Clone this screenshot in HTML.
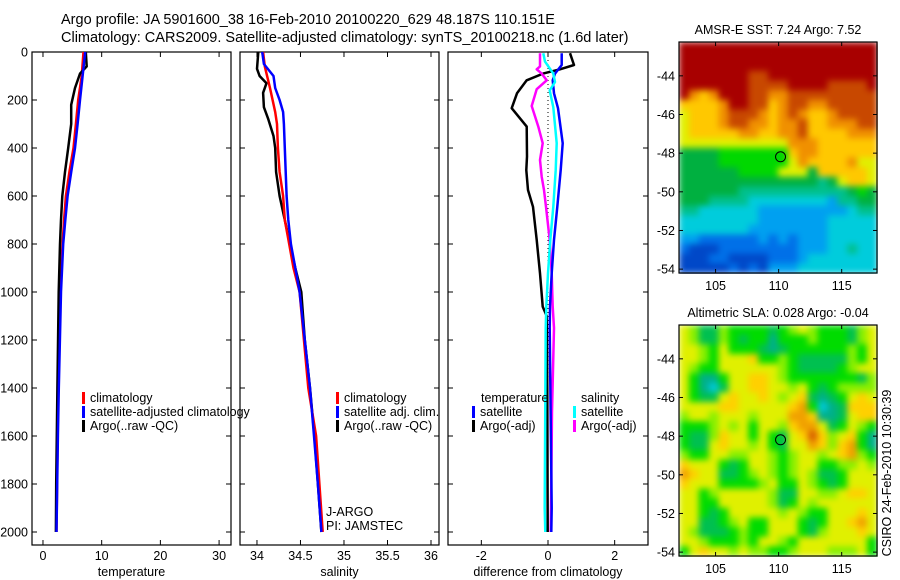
<!DOCTYPE html>
<html><head><meta charset="utf-8"><style>
html,body{margin:0;padding:0;background:#fff;}
svg{display:block;font-family:"Liberation Sans",Arial,sans-serif;}
</style></head><body>
<svg id="fig" width="900" height="580" viewBox="0 0 900 580" xmlns="http://www.w3.org/2000/svg">
<defs>
<filter id="smooth" x="0" y="0" width="1" height="1" filterUnits="objectBoundingBox" color-interpolation-filters="sRGB">
<feGaussianBlur stdDeviation="3.2" edgeMode="duplicate"/>
</filter>
</defs>
<text x="61" y="24" font-size="14.5">Argo profile: JA 5901600_38 16-Feb-2010 20100220_629 48.187S 110.151E</text>
<text x="61" y="42" font-size="14.5">Climatology: CARS2009. Satellite-adjusted climatology: synTS_20100218.nc (1.6d later)</text>
<text x="881" y="463" font-size="12.5" text-anchor="middle" transform="rotate(-90 891 463)">CSIRO 24-Feb-2010 10:30:39</text>
</svg>
<script>
// ---------- data ----------
const depthTicks=[0,200,400,600,800,1000,1200,1400,1600,1800,2000];
const tempTicks=[0,10,20,30];
const salTicks=[34,34.5,35,35.5,36];
const salTickLabels=["34","34.5","35","35.5","36"];
const diffTicks=[-2,0,2];
const latTicks=[-44,-46,-48,-50,-52,-54];
const lonTicks=[105,110,115];

const tClimD=[0,100,200,300,400,500,600,700,800,1000,1400,2000];
const tClimV=[6.9,6.6,6.0,5.6,5.2,4.5,3.9,3.6,3.35,2.9,2.6,2.3];
const tSatD=[0,100,200,300,400,500,600,700,800,1000,1400,1600,2000];
const tSatV=[7.2,6.75,6.3,5.9,5.45,4.8,4.2,3.8,3.45,3.07,2.7,2.55,2.3];
const tArgoD=[0,60,90,150,220,300,400,500,600,700,800,1000,1400,1800,2000];
const tArgoV=[7.3,7.45,6.3,5.45,4.8,4.8,4.3,3.75,3.3,3.07,2.9,2.67,2.45,2.25,2.2];

const sClimD=[0,60,150,200,250,300,400,500,600,700,800,900,1000,1400,1600,2000];
const sClimV=[34.07,34.09,34.15,34.18,34.21,34.23,34.24,34.26,34.30,34.32,34.37,34.42,34.49,34.59,34.68,34.755];
const sSatD=[0,50,100,150,200,250,300,400,500,600,700,800,900,1000,1400,1600,1800,2000];
const sSatV=[34.06,34.08,34.19,34.21,34.26,34.30,34.31,34.32,34.33,34.34,34.36,34.39,34.44,34.49,34.61,34.655,34.70,34.74];
const sArgoD=[0,70,100,130,170,230,280,350,400,500,600,700,800,900,1000,1200,1400,1600,1800,2000];
const sArgoV=[34.015,34.0,34.03,34.11,34.07,34.08,34.13,34.19,34.21,34.22,34.26,34.32,34.38,34.44,34.51,34.55,34.61,34.66,34.70,34.74];

const dTArgoD=[5,54,72,90,118,172,234,311,436,492,575,645,783,922,1061,1100,1400,2000];
const dTArgoV=[0.66,0.78,0.36,-0.15,-0.64,-0.93,-1.09,-0.64,-0.63,-0.65,-0.6,-0.45,-0.34,-0.24,-0.16,-0.04,-0.02,-0.01];
const dTSatD=[5,54,90,118,172,234,380,492,645,783,922,1061,1150,1900,2000];
const dTSatV=[0.41,0.41,0.21,0.14,0.18,0.3,0.44,0.38,0.28,0.18,0.11,0.06,0.05,0.11,0.1];
const dSSatD=[5,40,90,125,160,230,380,492,645,783,922,1061,1150,1900,2000];
const dSSatV=[-0.14,-0.09,0.16,0.21,0.05,0.16,0.26,0.23,0.16,0.07,0.0,-0.05,-0.07,-0.1,-0.08];
const dSArgoD=[5,60,72,90,118,155,225,311,380,450,520,575,645,783,922,1061,1150,1500,1800,2000];
const dSArgoV=[-0.24,-0.24,-0.34,-0.19,-0.04,-0.34,-0.49,-0.29,-0.16,-0.24,-0.19,-0.12,-0.06,0.05,0.11,0.14,0.18,0.12,0.1,0.08];

// map grids: 20 columns (lon 102.1..117.8) x 24 rows (lat -42.25..-54.2)
const sstRows=["bbbbbbbbbbbbbbbbbbbb","bbbbbbbbbbbbbbbbbbbb","bbbbbbbbbbbbbbbbbbbb","bbbbbbbaabbbbbbbbbbb",
"bbbbbbbaaaabbbbaaaab","b989bbbaa99aaaaaaaaa","88889bbaa89aa99aaaaa","78889aaa989a9889aaaa",
"78889aa99899a88999aa","788888998899a8888999","77777777777999888888","55556666666899888888",
"55556666666798888977","55555566667775888887","55555555555555457887","55555544444444444565",
"55544443333333324455","44333333222222222344","33333333222222233333","33333332222222233333",
"22111111212122233333","10001111111122233433","00011000011123333333","00000101022233333333"];
const sstColors=["#0048c8","#0070e8","#00a0f0","#00ccdc","#00c08c","#00b040","#00d800","#e0f000","#ffc800","#f09000","#c84800","#a80000"];
const slaRows=["54224333323454333245","54224323313334333245","55435333212333333435","55435556334322222435",
"54335555554322223455","53113556654333333324","53102556655453234444","53225655654562123565",
"55556655555673012666","45545554555776112566","33345453554677523543","32246553532568645631",
"32256554532557646731","43355445543455456743","65553235543455334454","76552234543454223555",
"65553333453354323555","55345555542255445665","55335555542354555555","55323555554543355565",
"55223453355532355675","54222343355532455565","55433343554355555553","35655454433455544453"];
const slaColors=["#00c8d8","#00b088","#00c050","#00dc00","#88f000","#e0f000","#ffd000","#f0a000","#d86000"];
const argoLon=110.151, argoLat=-48.187;

// ---------- drawing ----------
const svg=document.getElementById('fig');
const NS="http://www.w3.org/2000/svg";
function mk(tag,attrs,parent){const e=document.createElementNS(NS,tag);for(const k in attrs)e.setAttribute(k,attrs[k]);(parent||svg).appendChild(e);return e;}
const yD=d=>52+d*0.24;
const panels=[
 {x0:32,x1:231,v0:-1.87,v1:32.03,ticks:tempTicks,labels:tempTicks.map(String),title:"temperature",name:"temperature-panel"},
 {x0:240,x1:439,v0:33.805,v1:36.092,ticks:salTicks,labels:salTickLabels,title:"salinity",name:"salinity-panel"},
 {x0:448,x1:648,v0:-3.0,v1:3.0,ticks:diffTicks,labels:diffTicks.map(String),title:"difference from climatology",name:"difference-panel"}];
const yTop=52, yBot=545;
panels.forEach((p,i)=>{
 const g=mk('g',{});
 
 
 p.sx=v=>p.x0+(v-p.v0)/(p.v1-p.v0)*(p.x1-p.x0);
 const r=mk('rect',{x:p.x0,y:yTop,width:p.x1-p.x0,height:yBot-yTop,fill:'none',stroke:'#000','stroke-width':1.2},g);
 
 
 p.ticks.forEach((t,j)=>{
  const x=p.sx(t);
  mk('line',{x1:x,y1:yBot,x2:x,y2:yBot-5,stroke:'#000'},g);
  mk('line',{x1:x,y1:yTop,x2:x,y2:yTop+5,stroke:'#000'},g);
  const tl=mk('text',{x:x,y:yBot+15,'font-size':12.5,'text-anchor':'middle'},g);
  tl.textContent=p.labels[j];
  
  
 });
 depthTicks.forEach(d=>{
  const y=yD(d);
  mk('line',{x1:p.x0,y1:y,x2:p.x0+5,y2:y,stroke:'#000'},g);
  mk('line',{x1:p.x1,y1:y,x2:p.x1-5,y2:y,stroke:'#000'},g);
  if(i===0){const tl=mk('text',{x:p.x0-4,y:y+4.5,'font-size':12.5,'text-anchor':'end'},g);tl.textContent=String(d);
   
   }
 });
 const at=mk('text',{x:(p.x0+p.x1)/2,y:576,'font-size':12.5,'text-anchor':'middle'},g);
 at.textContent=p.title;
 
 
});
function line(p,D,V,color,name,w){
 const pts=D.map((d,k)=>p.sx(V[k]).toFixed(1)+','+yD(d).toFixed(1)).join(' ');
 const l=mk('polyline',{points:pts,fill:'none',stroke:color,'stroke-width':w||2.5,'stroke-linejoin':'round'});
 
 
}
{const p=panels[2];const z=mk('line',{x1:p.sx(0),y1:yTop,x2:p.sx(0),y2:yD(2000),stroke:'#000','stroke-dasharray':'1,3'});
 
 }
line(panels[0],tClimD,tClimV,'#ff0000','temperature-climatology-line');
line(panels[0],tArgoD,tArgoV,'#000000','temperature-argo-line');
line(panels[0],tSatD,tSatV,'#0000ff','temperature-satellite-line');
line(panels[1],sArgoD,sArgoV,'#000000','salinity-argo-line');
line(panels[1],sClimD,sClimV,'#ff0000','salinity-climatology-line');
line(panels[1],sSatD,sSatV,'#0000ff','salinity-satellite-line');
line(panels[2],dTArgoD,dTArgoV,'#000000','diff-temperature-argo-line');
line(panels[2],dSArgoD,dSArgoV,'#ff00ff','diff-salinity-argo-line');
line(panels[2],dTSatD,dTSatV,'#0000ff','diff-temperature-satellite-line');
line(panels[2],dSSatD,dSSatV,'#00ffff','diff-salinity-satellite-line');

function legend(x,y,color,label,name){
 const g=mk('g',{});
 
 
 if(color)mk('rect',{x:x,y:y-10,width:3,height:12,fill:color},g);
 const t=mk('text',{x:x+8,y:y,'font-size':12.5},g);t.textContent=label;
}
legend(82,402,'#ff0000','climatology','legend-entry-climatology');
legend(82,416,'#0000ff','satellite-adjusted climatology','legend-entry-satellite-adjusted');
legend(82,430,'#000000','Argo(..raw -QC)','legend-entry-argo');
legend(336,402,'#ff0000','climatology','legend-entry-sal-climatology');
legend(336,416,'#0000ff','satellite adj. clim.','legend-entry-sal-satellite');
legend(336,430,'#000000','Argo(..raw -QC)','legend-entry-sal-argo');
legend(473,402,null,'temperature','legend-header-temperature');
legend(472,416,'#0000ff','satellite','legend-entry-temp-satellite');
legend(472,430,'#000000','Argo(-adj)','legend-entry-temp-argo');
legend(573,402,null,'salinity','legend-header-salinity');
legend(573,416,'#00ffff','satellite','legend-entry-sal-sat');
legend(573,430,'#ff00ff','Argo(-adj)','legend-entry-sal-argo-adj');
{const t=mk('text',{x:326,y:516,'font-size':12.5});t.textContent='J-ARGO';
 
 const t2=mk('text',{x:326,y:530,'font-size':12.5});t2.textContent='PI: JAMSTEC';
 }

const lonMin=102.1, lonMax=117.8, latTop=-42.25, latBot=-54.2;
function drawMap(y0,y1,rows,colors,title,name){
 const x0=679,x1=877;
 const g=mk('g',{});
 
 
 const sx=lon=>x0+(lon-lonMin)/(lonMax-lonMin)*(x1-x0);
 const sy=lat=>y0+(latTop-lat)/(latTop-latBot)*(y1-y0);
 const nr=rows.length,nc=rows[0].length;
 const cw=(x1-x0)/nc,ch=(y1-y0)/nr;
 const cells=mk('g',{filter:'url(#smooth)'},g);
 
 
 rows.forEach((row,r)=>{for(let c=0;c<nc;c++){
  const cell=mk('rect',{x:(x0+c*cw).toFixed(2),y:(y0+r*ch).toFixed(2),width:(cw+0.6).toFixed(2),height:(ch+0.6).toFixed(2),fill:colors[parseInt(row[c],16)]},cells);
  
  
 }});
 mk('rect',{x:x0,y:y0,width:x1-x0,height:y1-y0,fill:'none',stroke:'#000','stroke-width':1.2},g);
 latTicks.forEach(l=>{const y=sy(l);
  mk('line',{x1:x0,y1:y,x2:x0+4,y2:y,stroke:'#000'},g);mk('line',{x1:x1,y1:y,x2:x1-4,y2:y,stroke:'#000'},g);
  const t=mk('text',{x:x0-4,y:y+4.5,'font-size':12.5,'text-anchor':'end'},g);t.textContent=String(l);
  });
 lonTicks.forEach(l=>{const x=sx(l);
  mk('line',{x1:x,y1:y0,x2:x,y2:y0+4,stroke:'#000'},g);mk('line',{x1:x,y1:y1,x2:x,y2:y1-4,stroke:'#000'},g);
  const t=mk('text',{x:x,y:y1+17,'font-size':12.5,'text-anchor':'middle'},g);t.textContent=String(l);
  });
 const tt=mk('text',{x:(x0+x1)/2,y:y0-8,'font-size':12.5,'text-anchor':'middle'},g);tt.textContent=title;
 
 const c=mk('circle',{cx:sx(argoLon),cy:sy(argoLat),r:5,fill:'none',stroke:'#000','stroke-width':1},g);
 
 
}
drawMap(42,273,sstRows,sstColors,'AMSR-E SST: 7.24 Argo: 7.52','sst-map');
drawMap(325,556,slaRows,slaColors,'Altimetric SLA: 0.028 Argo: -0.04','sla-map');
</script>
</body></html>
